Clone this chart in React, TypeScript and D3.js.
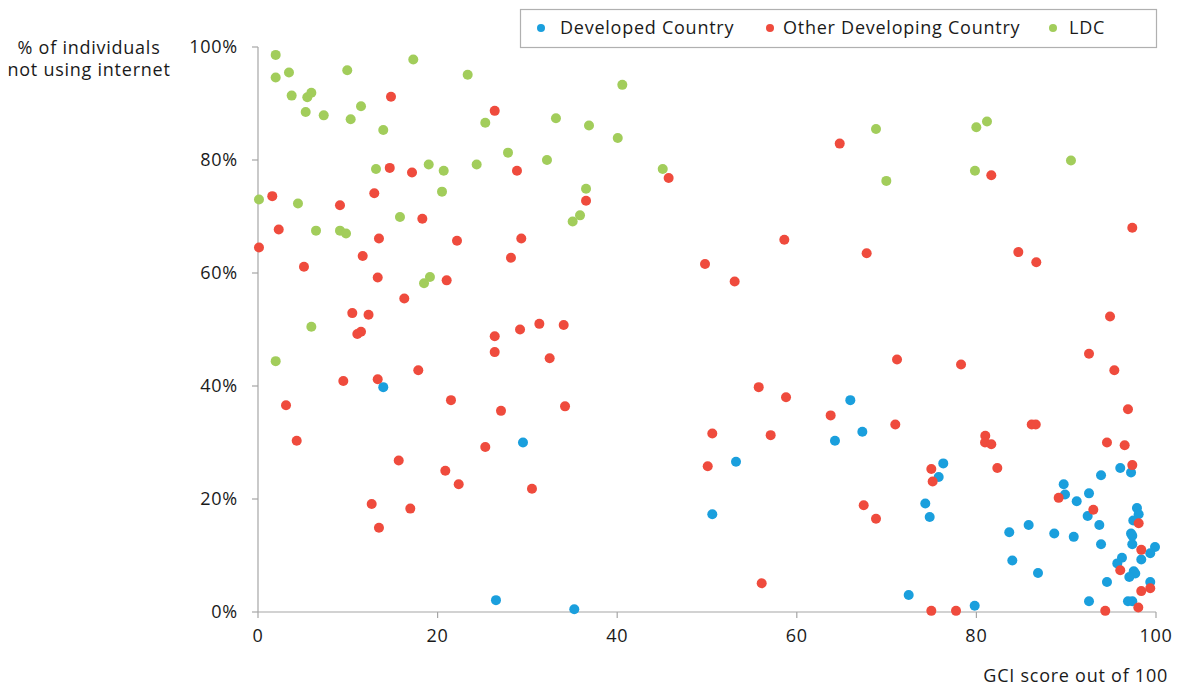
import React from "react";
import * as d3 from "d3";

const seriesNames = ["Developed Country", "Other Developing Country", "LDC"];
const seriesColors = ["#1a9fdd", "#ef4b3d", "#a2cd5b"];

const developed: [number, number][] = [
  [13.95, 39.8], [29.51, 30.0], [26.5, 2.1], [35.22, 0.5], [53.23, 26.6], [50.59, 17.3],
  [65.96, 37.5], [67.3, 31.9], [64.25, 30.3], [76.31, 26.3], [75.8, 23.9], [74.31, 19.2],
  [74.8, 16.8], [72.46, 3.0], [79.81, 1.1], [96.02, 25.5], [97.22, 24.7], [93.88, 24.2],
  [89.72, 22.6], [89.87, 20.8], [92.54, 21.0], [91.17, 19.6], [92.39, 17.0], [97.88, 18.4],
  [98.07, 17.3], [97.47, 16.2], [85.82, 15.4], [83.66, 14.1], [88.67, 13.9], [90.84, 13.3],
  [93.69, 15.4], [97.22, 13.9], [97.36, 13.5], [93.88, 12.0], [97.36, 12.0], [99.89, 11.5],
  [99.36, 10.4], [98.36, 9.3], [84.0, 9.1], [96.21, 9.6], [95.69, 8.6], [97.52, 7.2],
  [97.69, 6.8], [97.03, 6.2], [86.86, 6.9], [94.54, 5.3], [99.36, 5.3], [92.54, 1.9],
  [96.88, 1.9], [97.36, 1.9],
];

const otherDeveloping: [number, number][] = [
  [14.81, 91.2], [26.36, 88.7], [14.67, 78.6], [17.15, 77.8], [1.59, 73.6], [12.95, 74.1],
  [9.13, 72.0], [18.3, 69.6], [2.31, 67.7], [13.47, 66.1], [22.16, 65.7], [0.11, 64.5],
  [11.66, 63.0], [5.12, 61.1], [13.33, 59.2], [21.01, 58.7], [16.29, 55.5], [10.5, 52.9],
  [12.31, 52.6], [11.47, 49.6], [11.06, 49.2], [26.36, 48.8], [26.36, 46.0], [17.85, 42.8],
  [9.5, 40.9], [13.33, 41.2], [3.12, 36.6], [21.49, 37.5], [27.06, 35.6], [4.31, 30.3],
  [25.31, 29.2], [15.67, 26.8], [20.86, 25.0], [22.35, 22.6], [12.66, 19.1], [16.96, 18.3],
  [13.47, 14.9], [28.84, 78.1], [45.73, 76.8], [36.53, 72.8], [29.32, 66.1], [28.17, 62.7],
  [49.78, 61.6], [53.08, 58.5], [29.18, 50.0], [31.33, 51.0], [34.04, 50.8], [32.48, 44.9],
  [34.19, 36.4], [30.51, 21.8], [50.59, 31.6], [50.08, 25.8], [64.78, 82.9], [58.61, 65.9],
  [67.78, 63.5], [71.16, 44.7], [78.29, 43.8], [55.76, 39.8], [58.8, 38.0], [63.77, 34.8],
  [70.97, 33.2], [57.09, 31.3], [74.98, 25.3], [75.13, 23.1], [67.45, 18.9], [68.82, 16.5],
  [56.09, 5.1], [74.98, 0.2], [77.73, 0.2], [81.66, 77.3], [97.36, 68.0], [84.67, 63.7],
  [86.67, 61.9], [94.88, 52.3], [92.54, 45.7], [95.36, 42.8], [96.88, 35.9], [86.16, 33.2],
  [86.61, 33.2], [80.99, 31.2], [80.96, 30.0], [81.66, 29.7], [82.33, 25.5], [94.54, 30.0],
  [96.51, 29.5], [97.36, 26.0], [89.16, 20.2], [93.02, 18.1], [98.07, 15.7], [98.36, 11.0],
  [96.02, 7.4], [99.36, 4.2], [98.36, 3.7], [98.03, 0.8], [94.35, 0.2],
];

const ldc: [number, number][] = [
  [1.97, 98.6], [1.97, 94.6], [3.45, 95.5], [3.75, 91.4], [5.49, 91.1], [5.94, 91.9],
  [5.31, 88.5], [7.32, 87.9], [9.94, 95.9], [10.32, 87.2], [11.47, 89.5], [13.95, 85.3],
  [17.29, 97.8], [23.35, 95.1], [25.31, 86.6], [13.14, 78.4], [19.01, 79.2], [20.68, 78.1],
  [24.35, 79.2], [0.11, 73.0], [4.45, 72.3], [20.49, 74.4], [15.81, 69.9], [6.46, 67.5],
  [9.13, 67.5], [9.8, 67.0], [19.15, 59.3], [18.49, 58.2], [5.94, 50.5], [1.97, 44.4],
  [33.18, 87.4], [36.86, 86.1], [40.06, 83.9], [40.57, 93.3], [27.84, 81.3], [32.18, 80.0],
  [45.07, 78.4], [36.53, 74.9], [35.86, 70.2], [35.04, 69.1], [68.82, 85.5], [69.97, 76.3],
  [79.99, 85.8], [81.18, 86.8], [79.84, 78.1], [90.53, 79.9],
];

const xTicks = [0, 20, 40, 60, 80, 100];
const yTicks = [0, 20, 40, 60, 80, 100];
const yTitle = ["% of individuals", "not using internet"];
const xTitle = "GCI score out of 100";

const W = 1180;
const H = 686;
const FONT = "'Open Sans', sans-serif";
const TEXT = "#1a1a1a";
const AXIS = "#a6a6a6";
const LS = 0.75;

export default function App() {
  const x = d3.scaleLinear().domain([0, 100]).range([258, 1156]);
  const y = d3.scaleLinear().domain([0, 100]).range([612, 47]);
  const drawOrder: { data: [number, number][]; color: string }[] = [
    { data: developed, color: seriesColors[0] },
    { data: ldc, color: seriesColors[2] },
    { data: otherDeveloping, color: seriesColors[1] },
  ];
  const legendItems = [
    { dot: 541, text: 560 },
    { dot: 770, text: 783 },
    { dot: 1053, text: 1069 },
  ];
  return (
    <svg width={W} height={H} style={{ position: "absolute", left: 0, top: 0, fontFamily: FONT, fontWeight: 400, letterSpacing: LS }}>
      <rect x={0} y={0} width={W} height={H} fill="#fff" />
      <line x1={x(0)} x2={x(100)} y1={y(0)} y2={y(0)} stroke={AXIS} strokeWidth={1.2} />
      <line x1={x(0)} x2={x(0)} y1={y(0)} y2={y(100)} stroke={AXIS} strokeWidth={1.2} />
      {yTicks.map((t) => (
        <g key={"y" + t}>
          <line x1={x(0) - 6} x2={x(0)} y1={y(t)} y2={y(t)} stroke={AXIS} strokeWidth={1.2} />
          <text x={238} y={y(t)} dy="0.35em" textAnchor="end" fontSize={18} fill={TEXT}>
            {t + "%"}
          </text>
        </g>
      ))}
      {xTicks.map((t) => (
        <g key={"x" + t}>
          <line x1={x(t)} x2={x(t)} y1={y(0)} y2={y(0) + 6} stroke={AXIS} strokeWidth={1.2} />
          <text x={x(t)} y={636} dy="0.35em" textAnchor="middle" fontSize={18} fill={TEXT}>
            {t}
          </text>
        </g>
      ))}
      {yTitle.map((line, i) => (
        <text key={line} x={89} y={48 + i * 22} dy="0.35em" textAnchor="middle" fontSize={18} fill={TEXT}>
          {line}
        </text>
      ))}
      <text x={1168} y={676} dy="0.35em" textAnchor="end" fontSize={18} fill={TEXT}>
        {xTitle}
      </text>
      {drawOrder.map((s, si) => (
        <g key={si}>
          {s.data.map((d, i) => (
            <circle key={i} cx={x(d[0])} cy={y(d[1])} r={5} fill={s.color} />
          ))}
        </g>
      ))}
      <rect x={520.5} y={9.5} width={636} height={38} fill="#fff" stroke="#b0b0b0" strokeWidth={1.2} />
      {seriesNames.map((n, i) => (
        <g key={n}>
          <circle cx={legendItems[i].dot} cy={28} r={4} fill={seriesColors[i]} />
          <text x={legendItems[i].text} y={28} dy="0.35em" fontSize={18} fill={TEXT}>
            {n}
          </text>
        </g>
      ))}
    </svg>
  );
}
